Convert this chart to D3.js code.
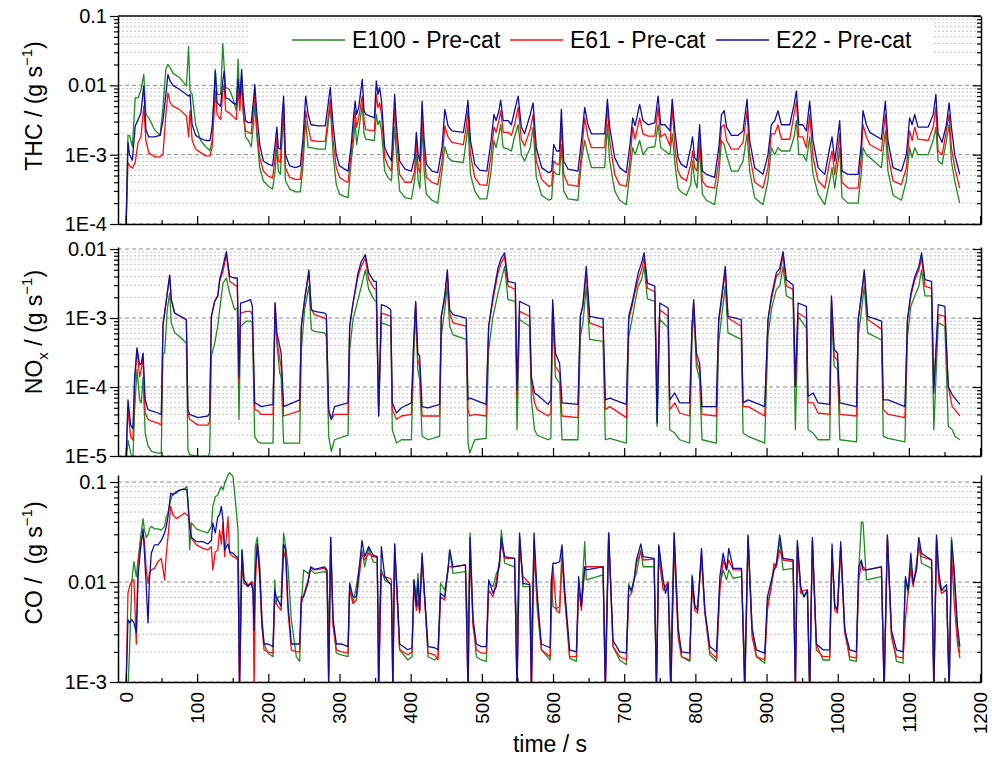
<!DOCTYPE html>
<html>
<head>
<meta charset="utf-8">
<script src="https://cdn.jsdelivr.net/npm/d3@7/dist/d3.min.js"></script>
<style>
  body { margin: 0; background: #fff; }
  svg { font-family: "Liberation Sans", Arial, sans-serif; }
</style>
</head>
<body>
<svg id="chart" width="992" height="764"></svg>
<script>
// ---- data (time in s, emissions in g/s) ----
const seriesNames = ["E100 - Pre-cat", "E61 - Pre-cat", "E22 - Pre-cat"];
const seriesColors = ["#1e8c1e", "#ff1010", "#1010a0"];

const thcTime = [0,2.8,5,9,13,17,21,25,28,32,40,48,52,56,59,62,66,75,85,88,90,93,98,105,112,118,121,124,125.5,128,133,136,138,140,145,150,155,157.5,160,162.5,165,168,172,176,179,181,184,188,193,200,206,209.5,212,214,217,219.5,221.5,224,230,238,245,248.5,252.5,256,260,270,280,284,287,291,295.5,300,307,312,316.5,320,322,324,327,332,334.5,337,349,351.7,354,356.5,359,363.5,368,373,377.5,380,384.5,392,401,405.5,408,410.5,413,416,419,422,430,438,444,448,452.5,458,474,478,480.5,484,490,497,507,513,517,520,524,526.5,530,537,541.5,546,551,555.5,560,568,572,576.5,584,594,598,601,605,609,611.7,615,621,635,640,644.5,649,654,672.6,676.4,679.6,686.6,693.6,703,707.6,712,715.3,721.7,726.4,733.5,743,747.6,751.4,757.3,764.3,767.5,771.3,775.6,780,787.4,793.5,796,799,802.3,806,809.8,815.5,827,833,836.7,840.5,843.8,850.6,860,867,872.6,876.3,883.3,895,902,906.8,911.5,916,921,932.6,938.7,942,945.3,951,956,960.6,965.3,972.4,981.8,988.8,992,995.8,999.5,1002.8,1006,1014.5,1028.6,1033,1035.5,1040.3,1045,1061.3,1066.9,1070.6,1077.7,1089.4,1096.5,1101,1104.5,1108.2,1112.8,1127.1,1134.1,1137.9,1141,1146.6,1152.7,1156.5,1159.7,1164.4,1171.4];
const thcE100 = [8e-5,1.9e-3,1.9e-3,1.3e-3,6.6e-3,6.6e-3,8.5e-3,1.44e-2,3.8e-3,3.4e-3,2.3e-3,1.9e-3,4.8e-3,1.7e-2,2.0e-2,1.8e-2,1.5e-2,1.3e-2,9.8e-3,3.6e-2,8.3e-3,7.4e-3,2.7e-3,1.6e-3,1.3e-3,1.15e-3,1.6e-3,8.3e-3,1.7e-2,7.4e-3,7.4e-3,4.0e-2,1.8e-2,9.3e-3,8.8e-3,6.6e-3,4.3e-3,2.4e-2,5.3e-3,1.3e-2,3.8e-3,1.8e-3,1.6e-3,1.3e-3,2.7e-3,5.3e-3,1.8e-3,6.5e-4,4.2e-4,3.5e-4,3.2e-4,5.8e-4,1.26e-3,5.8e-4,5.2e-4,1.9e-3,3.8e-3,4.2e-4,3.2e-4,2.9e-4,2.9e-4,6.5e-4,3.1e-3,1.26e-3,1.26e-3,1.2e-3,1.2e-3,2.7e-3,5.3e-3,1.0e-3,3.7e-4,2.7e-4,2.5e-4,2.4e-4,8.1e-4,1.67e-3,3.1e-3,1.4e-3,2.2e-3,5.3e-3,2.0e-3,1.67e-3,1.6e-3,3.8e-3,2.7e-3,3.1e-3,2.2e-3,5.8e-4,4.7e-4,4.2e-4,2.5e-3,1.0e-3,3.0e-4,2.4e-4,2.3e-4,4.2e-4,1.0e-3,4.2e-4,3.3e-4,2.7e-3,5.8e-4,2.7e-4,2.2e-4,2.0e-4,5.8e-4,1.3e-3,9.1e-4,8.1e-4,7.7e-4,1.6e-3,2.7e-3,5.2e-4,3.0e-4,2.3e-4,2.3e-4,5.8e-4,1.6e-3,1.26e-3,2.0e-3,2.7e-3,1.26e-3,1.2e-3,1.13e-3,1.8e-3,2.7e-3,1.0e-3,8.1e-4,1.26e-3,2.5e-3,4.7e-4,2.6e-4,2.2e-4,2.3e-4,5.8e-4,5.2e-4,5.2e-4,1.4e-3,3.0e-4,2.3e-4,2.2e-4,8.1e-4,1.6e-3,1.0e-3,6.5e-4,6.5e-4,2.7e-3,8.1e-4,3.0e-4,2.2e-4,1.9e-4,5.2e-4,1.26e-3,1.0e-3,1.6e-3,1.0e-3,1.26e-3,1.3e-3,2.7e-3,1.26e-3,1.13e-3,1.0e-3,2.0e-3,7.3e-4,3.3e-4,2.9e-4,2.6e-4,3.7e-4,8.1e-4,4.2e-4,3.3e-4,1.26e-3,2.7e-4,2.2e-4,1.9e-4,5.2e-4,1.6e-3,1.4e-3,1.0e-3,5.8e-4,5.8e-4,8.1e-4,2.0e-3,5.8e-4,2.4e-4,1.9e-4,4.2e-4,1.26e-3,1.0e-3,1.26e-3,1.13e-3,1.13e-3,1.8e-3,3.1e-3,1.0e-3,1.0e-3,8.1e-4,1.8e-3,5.2e-4,2.7e-4,1.9e-4,4.2e-4,6.5e-4,3.3e-4,6.5e-4,1.26e-3,2.4e-4,2.0e-4,2.0e-4,5.2e-4,1.26e-3,1.0e-3,9.1e-4,6.5e-4,2.2e-3,5.8e-4,2.6e-4,2.2e-4,4.2e-4,1.26e-3,9.1e-4,1.26e-3,1.0e-3,1.0e-3,1.6e-3,2.5e-3,8.1e-4,7.3e-4,1.6e-3,2.7e-3,8.1e-4,4.2e-4,2.0e-4];
const thcE61 = [8e-5,7.7e-4,6.9e-4,6.4e-4,7.7e-4,1.5e-3,1.8e-3,5.0e-3,1.6e-3,1.07e-3,9.3e-4,9.3e-4,1.0e-3,3.8e-3,7.8e-3,5.6e-3,5.0e-3,4.5e-3,3.6e-3,1.8e-3,4.3e-3,1.6e-3,1.2e-3,1.07e-3,9.6e-4,9.6e-4,1.26e-3,4.3e-3,8.3e-3,3.8e-3,3.2e-3,8.3e-3,1.03e-2,4.3e-3,4.0e-3,3.6e-3,3.2e-3,8.3e-3,4.3e-3,1.16e-2,3.8e-3,2.2e-3,2.1e-3,2.0e-3,4.3e-3,7.8e-3,2.2e-3,9.1e-4,5.8e-4,4.9e-4,4.6e-4,9.1e-4,1.8e-3,8.1e-4,7.7e-4,2.7e-3,5.3e-3,6.5e-4,4.7e-4,4.4e-4,4.4e-4,1.0e-3,4.3e-3,2.5e-3,1.6e-3,1.55e-3,1.55e-3,3.4e-3,6.3e-3,1.6e-3,6.5e-4,4.7e-4,4.2e-4,4.0e-4,1.0e-3,2.7e-3,4.3e-3,2.5e-3,3.4e-3,7.0e-3,3.1e-3,2.3e-3,2.2e-3,7.4e-3,4.8e-3,5.6e-3,3.8e-3,9.1e-4,6.9e-4,5.8e-4,4.5e-3,1.8e-3,5.2e-4,4.0e-4,4.0e-4,5.8e-4,1.6e-3,6.5e-4,5.5e-4,3.8e-3,1.0e-3,4.7e-4,4.0e-4,3.7e-4,8.1e-4,2.6e-3,1.8e-3,1.5e-3,1.4e-3,2.5e-3,4.3e-3,1.0e-3,4.7e-4,3.7e-4,3.6e-4,1.0e-3,2.5e-3,2.1e-3,3.1e-3,4.3e-3,2.1e-3,2.1e-3,1.9e-3,2.7e-3,4.8e-3,1.67e-3,1.34e-3,2.3e-3,3.8e-3,8.1e-4,4.4e-4,3.5e-4,3.6e-4,8.1e-4,7.3e-4,7.3e-4,2.7e-3,5.2e-4,3.7e-4,3.5e-4,1.0e-3,3.4e-3,1.8e-3,1.26e-3,1.26e-3,4.8e-3,1.6e-3,5.2e-4,3.7e-4,3.5e-4,7.3e-4,2.5e-3,1.67e-3,3.4e-3,2.0e-3,1.85e-3,1.85e-3,4.8e-3,1.8e-3,2.0e-3,1.34e-3,4.8e-3,1.26e-3,5.8e-4,4.7e-4,4.2e-4,7.3e-4,1.13e-3,6.5e-4,5.8e-4,1.8e-3,4.2e-4,3.5e-4,3.3e-4,8.1e-4,2.5e-3,2.7e-3,1.6e-3,1.2e-3,1.2e-3,1.5e-3,4.3e-3,1.0e-3,4.0e-4,3.3e-4,6.5e-4,2.0e-3,2.0e-3,2.7e-3,1.67e-3,1.67e-3,3.8e-3,5.9e-3,1.8e-3,1.8e-3,1.26e-3,3.8e-3,9.1e-4,4.2e-4,3.3e-4,8.1e-4,1.13e-3,5.2e-4,1.0e-3,2.0e-3,4.0e-4,3.3e-4,3.3e-4,9.1e-4,2.7e-3,1.8e-3,1.4e-3,1.13e-3,3.8e-3,1.0e-3,4.2e-4,3.7e-4,6.5e-4,2.2e-3,1.6e-3,2.5e-3,1.67e-3,1.6e-3,2.5e-3,4.8e-3,1.13e-3,1.0e-3,2.2e-3,3.8e-3,1.26e-3,6.5e-4,3.3e-4];
const thcE22 = [8e-5,1.5e-3,1.0e-3,8.3e-4,2.6e-3,3.2e-3,4.0e-3,9.8e-3,2.3e-3,1.8e-3,1.8e-3,1.9e-3,3.1e-3,7.4e-3,1.44e-2,1.16e-2,1.0e-2,8.8e-3,7.4e-3,7.0e-3,7.4e-3,2.7e-3,1.9e-3,1.7e-3,1.6e-3,1.6e-3,2.5e-3,7.4e-3,1.6e-2,5.6e-3,5.0e-3,1.16e-2,1.6e-2,6.6e-3,6.3e-3,5.6e-3,5.3e-3,1.22e-2,6.6e-3,1.7e-2,5.9e-3,3.1e-3,2.9e-3,2.9e-3,5.9e-3,1.03e-2,3.8e-3,1.4e-3,8.1e-4,7.3e-4,6.9e-4,1.4e-3,2.5e-3,1.26e-3,1.2e-3,3.8e-3,7.0e-3,1.0e-3,6.9e-4,6.5e-4,6.9e-4,1.6e-3,7.0e-3,3.8e-3,2.7e-3,2.6e-3,2.6e-3,5.3e-3,9.3e-3,2.7e-3,1.0e-3,6.9e-4,6.2e-4,5.8e-4,1.4e-3,3.8e-3,5.9e-3,3.8e-3,4.8e-3,1.22e-2,4.3e-3,3.8e-3,3.4e-3,1.16e-2,7.4e-3,9.3e-3,5.9e-3,1.26e-3,1.0e-3,8.1e-4,7.4e-3,2.7e-3,8.1e-4,6.2e-4,5.8e-4,9.1e-4,2.1e-3,1.0e-3,8.1e-4,5.9e-3,1.6e-3,7.3e-4,5.8e-4,5.5e-4,1.26e-3,4.5e-3,2.6e-3,2.2e-3,2.1e-3,3.8e-3,6.1e-3,1.6e-3,7.3e-4,6.0e-4,5.8e-4,1.6e-3,3.8e-3,3.1e-3,4.3e-3,6.1e-3,3.1e-3,3.1e-3,2.7e-3,4.3e-3,7.0e-3,2.5e-3,2.0e-3,3.8e-3,5.6e-3,1.26e-3,6.5e-4,5.5e-4,5.8e-4,1.4e-3,1.13e-3,1.13e-3,4.5e-3,8.1e-4,6.2e-4,5.8e-4,1.6e-3,4.8e-3,2.7e-3,2.0e-3,2.0e-3,6.3e-3,2.5e-3,9.1e-4,6.5e-4,5.5e-4,1.26e-3,3.4e-3,2.6e-3,5.3e-3,3.1e-3,2.7e-3,2.9e-3,7.0e-3,2.7e-3,2.7e-3,2.2e-3,6.3e-3,2.2e-3,9.1e-4,7.3e-4,6.5e-4,1.26e-3,1.8e-3,9.1e-4,8.1e-4,2.7e-3,5.8e-4,5.2e-4,4.7e-4,1.26e-3,3.8e-3,4.3e-3,2.5e-3,1.9e-3,1.9e-3,2.2e-3,6.3e-3,1.6e-3,6.5e-4,5.2e-4,1.0e-3,2.7e-3,3.1e-3,4.3e-3,2.7e-3,2.7e-3,5.3e-3,8.3e-3,2.7e-3,2.7e-3,2.2e-3,5.9e-3,1.6e-3,6.5e-4,5.2e-4,1.26e-3,1.8e-3,8.1e-4,1.6e-3,3.1e-3,5.8e-4,5.2e-4,5.2e-4,1.4e-3,4.3e-3,2.7e-3,2.1e-3,1.67e-3,5.9e-3,1.6e-3,6.5e-4,5.8e-4,1.0e-3,3.4e-3,2.7e-3,3.8e-3,2.5e-3,2.5e-3,3.8e-3,7.4e-3,2.0e-3,1.5e-3,2.7e-3,5.6e-3,2.5e-3,1.0e-3,5.2e-4];

const noxTime = [0,2.8,6.6,9.8,12.2,15.5,19.2,21.5,24,27,31,36,45,49.6,52,54.3,58,61.4,63.7,68.4,75.4,84.8,87,89.5,101,115,117.6,120,124.6,129,131.6,136.3,141,145.7,152.7,156.4,158.8,161,169,175,177.5,180.8,185.5,190,206.6,209.5,212,216,218,221.5,244,246.4,251,257,260.4,265,279,281.5,284.8,288.5,293,312,314.3,319,326,330.7,336.3,341,348.5,351.7,355,358.8,365.8,372,374.2,380,387,401,404.2,407,410,412.6,416,424.4,440.7,443,447.8,451.5,454.8,459.5,478,480.6,483,490,506,509.6,515.7,522.7,527.4,532,536.8,547,549.4,553,567,569.6,574,578,593,597,599.5,603.3,609.3,612.6,635,638.4,642,646.7,651.5,670.3,673.5,679.7,703,706.4,711,715,719.7,724.4,728,732.6,743,746.2,750,761.7,764,771,778,792,795.3,797.6,801.4,806,809.3,829.4,832.7,836.4,842,845.8,864.5,867,874,897.4,902,906.8,913.8,918.5,923.2,927.9,937.3,940.5,944.3,956,958.3,965.4,972.4,988.8,991.2,995,999.7,1003,1026.5,1028.8,1033.5,1037.3,1042,1061.6,1064,1071,1094.4,1098,1102.8,1108.4,1114,1117.8,1122.5,1131.8,1135,1141.2,1150.5,1155.3,1160.9,1164.6,1171.6];
const noxE100 = [8e-6,1.7e-5,1.1e-5,8.9e-6,4.7e-5,1.8e-4,6.5e-5,5.9e-5,1.4e-4,2.15e-5,1.4e-5,1.17e-5,1.1e-5,1.1e-5,3.1e-4,3.1e-4,1.32e-3,2.3e-3,8.5e-4,6.1e-4,5.4e-4,4.3e-4,1.24e-5,1.05e-5,9.9e-6,9.9e-6,1.1e-5,2.8e-4,4.3e-4,7.6e-4,1.32e-3,3.2e-3,3.8e-3,2.3e-3,1.32e-3,1.4e-3,3.4e-5,7.6e-4,9.0e-4,9.0e-4,8.5e-4,1.93e-5,1.6e-5,1.54e-5,1.54e-5,1.32e-3,4.3e-4,1.6e-4,1.4e-4,1.54e-5,1.54e-5,3.5e-4,1.32e-3,2.9e-3,6.8e-4,6.4e-4,6.1e-4,5.4e-4,1.93e-5,1.17e-5,1.72e-5,2.0e-5,3.5e-4,9.5e-4,1.85e-3,2.9e-3,5.0e-3,2.6e-3,1.85e-3,1.74e-3,3.8e-5,8.5e-4,8.0e-4,7.6e-4,2.4e-5,1.54e-5,1.72e-5,1.72e-5,2.5e-4,1.32e-3,1.8e-4,1.28e-4,1.93e-5,1.72e-5,1.93e-5,5.4e-4,1.32e-3,2.9e-3,7.6e-4,5.7e-4,4.9e-4,1.54e-5,1.1e-5,1.72e-5,1.8e-5,3.5e-4,1.06e-3,2.3e-3,3.6e-3,5.6e-3,1.85e-3,1.74e-3,2.4e-5,9.5e-4,7.6e-4,6.5e-5,2.4e-5,2.0e-5,1.72e-5,1.8e-5,1.32e-3,1.4e-4,1.14e-4,1.72e-5,1.72e-5,5.4e-4,8.5e-4,2.9e-3,4.9e-4,4.6e-4,1.72e-5,1.8e-5,1.54e-5,5.4e-4,9.5e-4,1.65e-3,2.9e-3,3.6e-3,5.6e-3,1.9e-3,1.74e-3,2.7e-5,9.5e-4,7.2e-4,2.4e-5,2.15e-5,1.72e-5,1.54e-5,4.9e-4,1.32e-3,2.0e-4,1.28e-4,1.72e-5,1.54e-5,4.3e-4,9.5e-4,2.9e-3,6.1e-4,4.9e-4,2.15e-5,1.93e-5,1.54e-5,5.4e-4,1.32e-3,2.6e-3,2.9e-3,5.6e-3,2.1e-3,1.85e-3,2.4e-5,1.06e-3,7.2e-4,2.4e-5,2.15e-5,1.72e-5,1.72e-5,1.32e-3,2.0e-4,1.8e-4,1.72e-5,1.6e-5,5.4e-4,1.32e-3,2.9e-3,6.1e-4,4.8e-4,1.93e-5,1.8e-5,1.6e-5,5.4e-4,1.48e-3,2.1e-3,2.9e-3,5.0e-3,2.1e-3,2.1e-3,2.4e-5,8.5e-4,7.6e-4,2.7e-5,2.4e-5,1.93e-5,1.72e-5];
const noxE61 = [8e-6,4.7e-5,1.9e-5,1.7e-5,1.1e-4,3.5e-4,1.4e-4,1.8e-4,2.6e-4,4.2e-5,3.4e-5,3.2e-5,3.0e-5,2.8e-5,8.5e-4,1.18e-3,2.3e-3,4.0e-3,1.85e-3,1.18e-3,1.06e-3,9.5e-4,4.2e-5,3.4e-5,2.8e-5,2.8e-5,3.2e-5,1.06e-3,1.74e-3,2.1e-3,3.4e-3,4.7e-3,8.3e-3,3.4e-3,3.0e-3,2.9e-3,1.14e-4,1.18e-3,1.25e-3,1.25e-3,1.12e-3,4.7e-5,4.5e-5,4.0e-5,4.0e-5,1.65e-3,4.9e-4,2.5e-4,2.0e-4,3.8e-5,4.5e-5,7.6e-4,1.85e-3,4.5e-3,1.32e-3,1.12e-3,1.0e-3,9.5e-4,4.2e-5,3.4e-5,4.0e-5,4.0e-5,7.6e-4,1.65e-3,4.0e-3,5.6e-3,7.4e-3,3.6e-3,2.7e-3,2.6e-3,4.7e-5,1.18e-3,1.12e-3,1.06e-3,4.7e-5,3.4e-5,3.8e-5,4.0e-5,4.3e-4,1.65e-3,2.5e-4,2.0e-4,3.8e-5,3.8e-5,3.8e-5,1.06e-3,1.85e-3,4.5e-3,1.18e-3,8.5e-4,7.6e-4,4.7e-5,3.8e-5,4.0e-5,3.8e-5,7.6e-4,1.85e-3,4.5e-3,6.3e-3,7.8e-3,2.9e-3,2.6e-3,7.3e-5,1.25e-3,1.06e-3,1.14e-4,5.9e-5,4.7e-5,3.8e-5,4.2e-5,1.65e-3,2.0e-4,1.6e-4,3.8e-5,3.6e-5,1.06e-3,1.48e-3,4.5e-3,8.5e-4,7.2e-4,4.7e-5,5.2e-5,3.6e-5,9.5e-4,1.48e-3,2.3e-3,3.6e-3,5.0e-3,7.4e-3,2.7e-3,2.4e-3,8.2e-5,1.32e-3,1.06e-3,4.7e-5,5.9e-5,4.2e-5,3.8e-5,7.6e-4,1.65e-3,2.5e-4,1.7e-4,4.0e-5,3.8e-5,8.5e-4,1.65e-3,4.7e-3,1.0e-3,7.6e-4,5.2e-5,5.2e-5,3.8e-5,9.5e-4,1.85e-3,4.0e-3,4.5e-3,7.8e-3,2.9e-3,2.6e-3,1.02e-4,1.18e-3,1.0e-3,5.9e-5,5.9e-5,4.2e-5,4.0e-5,1.85e-3,2.8e-4,2.4e-4,4.0e-5,3.8e-5,9.5e-4,2.1e-3,4.5e-3,9.5e-4,6.9e-4,4.7e-5,4.0e-5,3.6e-5,9.5e-4,2.1e-3,3.6e-3,5.0e-3,7.4e-3,2.9e-3,2.7e-3,1.02e-4,1.12e-3,1.06e-3,1.02e-4,5.2e-5,4.7e-5,3.8e-5];
const noxE22 = [8e-6,6.5e-5,2.8e-5,2.5e-5,1.4e-4,3.7e-4,2.1e-4,2.2e-4,3.1e-4,6.5e-5,4.7e-5,4.5e-5,4.2e-5,4.0e-5,7.6e-4,1.18e-3,2.3e-3,4.2e-3,1.85e-3,1.18e-3,1.08e-3,9.5e-4,4.7e-5,4.0e-5,3.6e-5,3.8e-5,4.2e-5,1.06e-3,1.74e-3,2.1e-3,3.6e-3,5.6e-3,9.2e-3,4.0e-3,3.8e-3,3.8e-3,1.4e-4,1.65e-3,1.74e-3,1.85e-3,1.48e-3,5.9e-5,5.6e-5,5.2e-5,5.6e-5,1.65e-3,6.1e-4,3.9e-4,3.1e-4,5.2e-5,6.5e-5,7.6e-4,1.85e-3,5.0e-3,1.32e-3,1.25e-3,1.18e-3,1.12e-3,4.7e-5,3.4e-5,5.2e-5,5.9e-5,7.6e-4,1.65e-3,4.5e-3,6.6e-3,8.3e-3,4.5e-3,3.4e-3,3.4e-3,3.8e-5,1.56e-3,1.48e-3,1.32e-3,5.9e-5,4.2e-5,5.0e-5,5.9e-5,4.3e-4,1.74e-3,3.1e-4,2.8e-4,5.2e-5,5.0e-5,5.6e-5,1.06e-3,2.1e-3,5.0e-3,1.32e-3,1.12e-3,1.0e-3,6.5e-5,6.9e-5,6.5e-5,5.6e-5,7.6e-4,2.1e-3,5.3e-3,7.4e-3,8.8e-3,3.4e-3,3.2e-3,9.1e-5,1.74e-3,1.48e-3,1.4e-4,8.2e-5,7.7e-5,5.6e-5,6.5e-5,1.85e-3,3.1e-4,2.2e-4,5.9e-5,5.6e-5,1.06e-3,1.56e-3,5.6e-3,1.06e-3,9.7e-4,6.5e-5,6.9e-5,5.6e-5,1.06e-3,1.65e-3,2.6e-3,4.5e-3,6.3e-3,8.8e-3,3.2e-3,2.9e-3,3.0e-5,1.65e-3,1.4e-3,6.5e-5,8.2e-5,5.9e-5,5.9e-5,7.6e-4,1.85e-3,3.1e-4,2.2e-4,5.2e-5,5.2e-5,9.5e-4,1.85e-3,5.6e-3,1.06e-3,9.5e-4,5.9e-5,6.5e-5,5.2e-5,9.5e-4,2.1e-3,4.5e-3,5.3e-3,9.2e-3,3.6e-3,3.0e-3,1.02e-4,1.65e-3,1.48e-3,7.3e-5,8.2e-5,5.9e-5,5.6e-5,2.1e-3,3.5e-4,3.1e-4,5.9e-5,5.2e-5,9.5e-4,2.3e-3,5.0e-3,1.06e-3,9.0e-4,6.5e-5,6.5e-5,5.2e-5,9.5e-4,2.3e-3,4.0e-3,5.6e-3,8.8e-3,3.6e-3,3.4e-3,8.2e-5,1.56e-3,1.48e-3,1.02e-4,7.7e-5,6.9e-5,5.6e-5];

const coTime = [0,2.8,5,8.4,11.2,14.5,17,20,24,26,28.5,31,33,35.6,40,45,49.6,54.3,56.7,59,62.8,66,70.7,75.4,82.4,85.7,88,89.5,92,99,108,115,120,122,125.5,129,131.6,134,136.3,138.7,143.3,145.7,150.4,155,157.4,159.5,163,165.8,171.4,176,178.5,180,181.7,184.5,187.8,191,194,199.5,206.6,209,211,213.6,218,221.5,224.4,227.6,232.3,239.3,244,246.4,249.6,255.7,259.5,265,279,282.4,284.8,287.6,291,295.6,302.6,312,314.3,319,323.6,331.6,335.4,341,347,353,355,358.8,363.5,370.5,372.8,375,377.5,381.3,384.5,396,401.9,404.6,408,410.3,412.6,416,419.7,424.4,433.7,438.4,442,447.8,452.5,454.8,459.5,477,480.6,483.4,487.6,492.3,499.3,506.3,509.6,515.7,520.4,525,527.4,532,546,549.4,553,557.8,567.2,569.6,573.3,578,583.6,596,597.7,600,604.6,609.3,612.6,616.4,623.4,632.8,636,639.8,644.5,646.8,670.3,673.5,678.2,684.3,693.7,703,706.4,710.2,713.9,717.2,723.3,726.6,742,745.3,748.6,754.7,758,761.7,765.5,770.2,775.8,780.5,792.2,795.5,799.2,803,808.6,813.3,820.3,829.7,834.4,839,843.8,847,853,864.8,869.4,874,879.7,885.8,897.4,901.2,905.8,910.5,913.8,918.5,923.2,937.3,940.5,943.3,948,952.7,957.4,960.6,964.4,970,979.4,988.8,992,995.8,999.5,1004.2,1009.8,1016.9,1026.2,1029.5,1033.3,1035.6,1040.3,1061.4,1065.2,1069.8,1075.5,1082.5,1091.8,1095.1,1098.9,1102.7,1106,1110.6,1113.9,1117.7,1131.8,1135.1,1138.8,1142.1,1145.8,1152.9,1156.6,1159.9,1163.7,1168.3,1171.6];
const coE100 = [8e-4,8e-4,2.1e-3,1.05e-2,1.6e-2,1.13e-2,1.66e-2,2.6e-2,4.3e-2,3.3e-2,2.8e-2,2.95e-2,3.4e-2,3.6e-2,3.4e-2,3.4e-2,3.3e-2,3.6e-2,4.5e-2,4.9e-2,6.6e-2,7.7e-2,7.7e-2,8.3e-2,8.6e-2,9.0e-2,5.2e-2,2.1e-2,3.9e-2,3.4e-2,3.2e-2,3.1e-2,3.6e-2,5.7e-2,7.1e-2,7.4e-2,8.3e-2,9.0e-2,8.3e-2,9.7e-2,0.117,0.124,0.113,5.2e-2,3.3e-2,2.8e-3,2.09e-2,1.05e-2,9.4e-3,9.7e-3,8.3e-3,3.9e-3,2.26e-2,2.8e-2,1.54e-2,4.5e-3,2.4e-3,1.94e-3,1.79e-3,1.05e-2,6.1e-3,7.1e-3,7.1e-3,3.1e-2,2.26e-2,1.42e-2,4.2e-3,1.79e-3,1.61e-3,6.1e-3,1.32e-2,1.22e-2,1.32e-2,1.22e-2,1.27e-2,1.22e-2,2.8e-3,2.8e-2,3.9e-3,1.94e-3,1.87e-3,1.79e-3,9.7e-3,6.1e-3,9.0e-3,2.09e-2,1.42e-2,2.17e-2,1.6e-2,1.54e-2,2.8e-3,1.32e-2,1.05e-2,9.7e-3,9.4e-3,1.79e-3,2.4e-2,6.6e-3,2.1e-3,1.66e-3,1.79e-3,1.05e-2,7.1e-3,1.22e-2,5.2e-3,1.79e-2,7.1e-3,1.79e-3,1.66e-3,1.79e-3,9.7e-3,8.3e-3,1.32e-2,2.09e-2,1.22e-2,1.27e-2,2.8e-3,3.1e-2,4.2e-3,1.79e-3,1.66e-3,1.61e-3,9.7e-3,9.0e-3,1.22e-2,1.42e-2,3.3e-2,1.54e-2,1.42e-2,2.8e-3,2.8e-2,9.0e-3,9.0e-3,2.4e-3,2.6e-2,5.2e-3,2.1e-3,1.66e-3,1.05e-2,5.7e-3,5.4e-3,5.7e-3,2.09e-2,7.1e-3,1.73e-3,1.61e-3,8.3e-3,6.1e-3,2.53e-2,1.05e-2,1.18e-2,1.32e-3,3.1e-2,2.26e-3,1.66e-3,1.49e-3,9.7e-3,7.7e-3,1.05e-2,1.22e-2,2.09e-2,1.42e-2,1.42e-2,1.13e-3,2.26e-2,9.7e-3,9.0e-3,9.4e-3,1.79e-3,3.1e-2,3.6e-3,1.79e-3,1.61e-3,1.18e-2,5.7e-3,5.7e-3,1.66e-2,5.2e-3,1.87e-3,1.61e-3,9.0e-3,1.32e-2,1.05e-2,1.32e-2,1.09e-2,1.13e-2,1.32e-3,2.8e-2,3.6e-3,1.79e-3,1.54e-3,6.1e-3,8.3e-3,1.32e-2,1.42e-2,2.6e-2,1.32e-2,1.37e-2,1.32e-3,2.4e-2,8.3e-3,7.1e-3,8.3e-3,8e-4,2.6e-2,2.4e-3,1.66e-3,1.66e-3,1.94e-2,6.1e-3,5.2e-3,2.26e-2,3.6e-3,1.66e-3,1.61e-3,1.32e-2,4.0e-2,3.9e-2,1.05e-2,1.13e-2,1.13e-3,2.8e-2,3.1e-3,1.61e-3,1.54e-3,1.05e-2,7.7e-3,1.54e-2,9.7e-3,1.32e-2,2.4e-2,1.54e-2,1.37e-2,1.13e-3,2.8e-2,1.13e-2,8.3e-3,8.3e-3,8e-4,2.8e-2,1.05e-2,2.8e-3,1.94e-3];
const coE61 = [8e-4,7.7e-3,9.0e-3,1.05e-2,1.05e-2,2.4e-3,1.54e-2,2.4e-2,3.1e-2,2.5e-2,1.32e-2,9.7e-3,1.22e-2,1.32e-2,1.37e-2,1.6e-2,1.72e-2,1.05e-2,1.94e-2,2.8e-2,5.7e-2,4.7e-2,4.3e-2,4.5e-2,4.9e-2,4.7e-2,4.5e-2,3.9e-2,2.73e-2,2.35e-2,2.17e-2,2.09e-2,2.26e-2,1.32e-2,2.0e-2,2.09e-2,3.3e-2,2.4e-2,3.9e-2,1.79e-2,4.5e-2,1.94e-2,1.79e-2,1.72e-2,1.66e-2,8e-4,1.54e-2,9.7e-3,9.0e-3,1.01e-2,9.7e-3,8e-4,9.0e-3,2.4e-2,1.13e-2,3.6e-3,2.1e-3,2.0e-3,1.94e-3,6.6e-3,6.1e-3,5.7e-3,5.2e-3,2.09e-2,1.66e-2,5.2e-3,2.1e-3,2.0e-3,2.0e-3,6.1e-3,7.4e-3,1.05e-2,1.37e-2,1.32e-2,1.37e-2,1.27e-2,1.13e-3,2.26e-2,3.6e-3,2.1e-3,2.0e-3,1.94e-3,8.3e-3,6.1e-3,6.6e-3,1.94e-2,1.66e-2,1.94e-2,1.79e-2,1.76e-2,8e-4,1.22e-2,1.13e-2,1.09e-2,1.05e-2,8e-4,2.09e-2,6.1e-3,2.1e-3,1.87e-3,2.0e-3,9.0e-3,5.2e-3,6.6e-3,4.9e-3,1.66e-2,6.6e-3,1.94e-3,1.87e-3,1.66e-3,7.1e-3,6.6e-3,1.42e-2,1.42e-2,1.42e-2,1.48e-2,8e-4,2.09e-2,3.6e-3,2.1e-3,1.94e-3,1.94e-3,8.3e-3,7.1e-3,1.05e-2,1.66e-2,2.4e-2,1.72e-2,1.72e-2,8e-4,2.26e-2,1.13e-2,9.7e-3,8e-4,1.94e-2,6.1e-3,2.1e-3,1.79e-3,5.2e-3,1.42e-2,5.2e-3,4.9e-3,1.66e-2,7.1e-3,1.79e-3,1.79e-3,9.0e-3,5.2e-3,1.37e-2,1.42e-2,1.42e-2,8e-4,2.95e-2,2.26e-3,1.79e-3,1.66e-3,7.1e-3,7.7e-3,1.05e-2,1.54e-2,2.0e-2,1.66e-2,1.69e-2,8e-4,1.79e-2,8.3e-3,9.0e-3,1.01e-2,8e-4,2.26e-2,2.8e-3,1.79e-3,1.66e-3,9.0e-3,5.2e-3,4.9e-3,1.94e-2,4.9e-3,2.0e-3,1.73e-3,8.3e-3,1.66e-2,1.32e-2,1.66e-2,1.32e-2,1.32e-2,8e-4,2.8e-2,2.8e-3,1.79e-3,1.66e-3,5.2e-3,8.3e-3,1.54e-2,1.42e-2,2.09e-2,1.66e-2,1.6e-2,8e-4,2.26e-2,7.7e-3,8.3e-3,8.3e-3,8e-4,2.6e-2,2.1e-3,1.79e-3,1.79e-3,2.09e-2,5.2e-3,4.9e-3,2.09e-2,3.1e-3,1.79e-3,1.73e-3,1.05e-2,1.54e-2,1.42e-2,1.32e-2,1.42e-2,8e-4,2.8e-2,2.8e-3,1.79e-3,1.73e-3,4.2e-3,7.7e-3,1.32e-2,9.0e-3,1.54e-2,2.26e-2,1.79e-2,1.66e-2,8e-4,2.6e-2,9.7e-3,7.7e-3,8.3e-3,8.5e-4,1.94e-2,6.1e-3,2.4e-3,1.73e-3];
const coE22 = [8e-4,4.2e-3,3.9e-3,4.2e-3,3.9e-3,3.1e-3,1.13e-2,2.0e-2,3.4e-2,1.94e-2,9.0e-3,3.9e-3,1.05e-2,1.94e-2,2.35e-2,2.35e-2,2.6e-2,3.1e-2,3.6e-2,4.5e-2,7.7e-2,7.4e-2,8.0e-2,8.3e-2,8.5e-2,8.3e-2,4.9e-2,3.6e-2,2.8e-2,2.53e-2,2.53e-2,2.4e-2,2.6e-2,3.9e-2,3.1e-2,4.5e-2,4.7e-2,5.7e-2,4.2e-2,2.09e-2,2.4e-2,2.0e-2,1.94e-2,1.79e-2,1.76e-2,8e-4,2.09e-2,1.05e-2,9.0e-3,9.7e-3,8.3e-3,3.3e-3,1.32e-2,2.4e-2,1.32e-2,3.9e-3,2.4e-3,2.4e-3,2.26e-3,8.3e-3,7.1e-3,6.6e-3,5.7e-3,2.4e-2,2.09e-2,6.1e-3,2.4e-3,2.4e-3,2.4e-3,7.1e-3,7.1e-3,9.7e-3,1.42e-2,1.34e-2,1.42e-2,1.32e-2,8e-4,2.8e-2,4.2e-3,2.4e-3,2.4e-3,2.26e-3,9.7e-3,7.1e-3,7.1e-3,2.6e-2,1.79e-2,2.26e-2,1.86e-2,1.79e-2,8e-4,2.26e-2,1.13e-2,9.7e-3,9.4e-3,8e-4,2.4e-2,7.1e-3,2.4e-3,2.1e-3,2.2e-3,1.05e-2,5.7e-3,1.05e-2,5.2e-3,1.94e-2,7.1e-3,2.26e-3,2.2e-3,2.1e-3,7.7e-3,7.1e-3,1.32e-2,2.09e-2,1.42e-2,1.48e-2,8e-4,2.8e-2,4.2e-3,2.4e-3,2.26e-3,2.26e-3,1.05e-2,7.7e-3,9.0e-3,1.66e-2,2.8e-2,1.79e-2,1.72e-2,8e-4,3.1e-2,9.7e-3,9.4e-3,8e-4,3.1e-2,7.1e-3,2.4e-3,2.2e-3,1.05e-2,1.54e-2,1.54e-2,1.6e-2,2.35e-2,8.3e-3,2.1e-3,2.0e-3,1.13e-2,5.7e-3,1.42e-2,1.32e-2,1.42e-2,8e-4,3.1e-2,2.6e-3,2.0e-3,1.94e-3,9.0e-3,8.3e-3,1.05e-2,1.66e-2,2.4e-2,1.79e-2,1.72e-2,8e-4,2.35e-2,1.05e-2,7.7e-3,9.7e-3,8e-4,3.1e-2,3.3e-3,2.0e-3,1.94e-3,1.13e-2,5.7e-3,5.2e-3,2.17e-2,5.2e-3,2.26e-3,2.0e-3,1.13e-2,1.94e-2,1.32e-2,2.17e-2,1.37e-2,1.37e-2,8e-4,2.95e-2,3.3e-3,2.1e-3,1.94e-3,7.1e-3,9.7e-3,1.32e-2,1.54e-2,2.95e-2,1.72e-2,1.66e-2,8e-4,2.6e-2,9.0e-3,7.1e-3,8.3e-3,8e-4,2.8e-2,2.4e-3,2.1e-3,2.1e-3,2.4e-2,5.7e-3,5.2e-3,2.53e-2,3.3e-3,2.1e-3,2.0e-3,1.42e-2,1.66e-2,1.32e-2,1.32e-2,1.42e-2,8e-4,2.95e-2,3.3e-3,2.1e-3,2.0e-3,1.13e-2,8.3e-3,1.94e-2,9.7e-3,1.32e-2,2.8e-2,1.94e-2,1.66e-2,8e-4,2.95e-2,1.22e-2,8.3e-3,9.4e-3,8e-4,2.6e-2,1.32e-2,3.6e-3,2.26e-3];

// axis tick values / labels
const thcTicks = [1e-4, 1e-3, 1e-2, 1e-1];
const thcTickLabels = ["1E-4", "1E-3", "0.01", "0.1"];
const noxTicks = [1e-5, 1e-4, 1e-3, 1e-2];
const noxTickLabels = ["1E-5", "1E-4", "1E-3", "0.01"];
const coTicks = [1e-3, 1e-2, 1e-1];
const coTickLabels = ["1E-3", "0.01", "0.1"];
const timeTicks = [0,100,200,300,400,500,600,700,800,900,1000,1100,1200];

// ---- layout ----
const svg = d3.select("#chart");
const left = 118, right = 981;
const font = '"Liberation Sans", Arial, sans-serif';

const x = d3.scaleLinear().domain([-11.2, 1201.3]).range([left, right]);

const panels = [
  { key: "thc", time: thcTime, series: [thcE100, thcE61, thcE22], domain: [1e-4, 0.1],
    top: 16, bottom: 224, ticks: thcTicks, labels: thcTickLabels, box: true,
    title: "thc", titleY: 106 },
  { key: "nox", time: noxTime, series: [noxE100, noxE61, noxE22], domain: [1e-5, 0.0107],
    top: 247, bottom: 456, ticks: noxTicks, labels: noxTickLabels, box: false,
    title: "nox", titleY: 332 },
  { key: "co", time: coTime, series: [coE100, coE61, coE22], domain: [1e-3, 0.1175],
    top: 475, bottom: 682, ticks: coTicks, labels: coTickLabels, box: false,
    title: "co", titleY: 563 }
];

function minorTicks(domain) {
  const out = [];
  const k0 = Math.floor(Math.log10(domain[0])), k1 = Math.ceil(Math.log10(domain[1]));
  for (let k = k0; k <= k1; k++) {
    for (let m = 2; m <= 9; m++) {
      const v = m * Math.pow(10, k);
      if (v > domain[0] * 1.0001 && v < domain[1] * 0.9999) out.push(v);
    }
  }
  return out;
}

const defs = svg.append("defs");

panels.forEach((p, i) => {
  const y = d3.scaleLog().domain(p.domain).range([p.bottom, p.top]);
  const minors = minorTicks(p.domain);
  const g = svg.append("g");

  // grid
  g.append("g").selectAll("line").data(minors).enter().append("line")
    .attr("x1", left).attr("x2", right)
    .attr("y1", d => y(d)).attr("y2", d => y(d))
    .attr("stroke", "#c4c4c4").attr("stroke-width", 1).attr("stroke-dasharray", "2,2");
  g.append("g").selectAll("line").data(p.ticks.filter(d => y(d) > p.top + 1)).enter().append("line")
    .attr("x1", left).attr("x2", right)
    .attr("y1", d => y(d)).attr("y2", d => y(d))
    .attr("stroke", "#8a8a8a").attr("stroke-width", 1).attr("stroke-dasharray", "4,3");

  // data lines
  defs.append("clipPath").attr("id", "clip-" + p.key)
    .append("rect").attr("x", left).attr("y", p.top - 12)
    .attr("width", right - left).attr("height", p.bottom - p.top + 12);

  const line = d3.line()
    .x((d, j) => x(p.time[j]))
    .y(d => y(d));

  g.append("g").attr("clip-path", `url(#clip-${p.key})`)
    .selectAll("path").data(p.series).enter().append("path")
    .attr("d", d => line(d))
    .attr("fill", "none")
    .attr("stroke", (d, j) => seriesColors[j])
    .attr("stroke-width", 1.3)
    .attr("stroke-linejoin", "round");

  // left axis
  const yl = g.append("g").attr("transform", `translate(${left},0)`)
    .call(d3.axisLeft(y).tickValues(p.ticks).tickFormat((d, j) => p.labels[j])
      .tickSize(8).tickSizeOuter(0).tickPadding(3));
  yl.selectAll("text").attr("font-size", 20).attr("font-family", font).attr("fill", "#000");
  g.append("g").attr("transform", `translate(${left},0)`)
    .call(d3.axisLeft(y).tickValues(minors).tickFormat("").tickSize(4).tickSizeOuter(0))
    .select(".domain").remove();

  // right axis, ticks pointing inward
  g.append("g").attr("transform", `translate(${right},0)`)
    .call(d3.axisRight(y).tickValues(p.ticks).tickFormat("").tickSize(-8).tickSizeOuter(0));
  g.append("g").attr("transform", `translate(${right},0)`)
    .call(d3.axisRight(y).tickValues(minors).tickFormat("").tickSize(-4).tickSizeOuter(0))
    .select(".domain").remove();

  // bottom axis, ticks pointing up
  g.append("g").attr("transform", `translate(0,${p.bottom})`)
    .call(d3.axisBottom(x).tickValues(timeTicks).tickFormat("").tickSize(-8).tickSizeOuter(0));
  g.append("g").attr("transform", `translate(0,${p.bottom})`)
    .call(d3.axisBottom(x).tickValues(timeTicks.slice(0, -1).map(d => d + 50)).tickFormat("")
      .tickSize(-4).tickSizeOuter(0))
    .select(".domain").remove();

  if (p.box) {
    g.append("line").attr("x1", left).attr("x2", right)
      .attr("y1", p.top).attr("y2", p.top).attr("stroke", "#000").attr("stroke-width", 1.5);
  }

  g.selectAll(".domain").attr("stroke", "#000").attr("stroke-width", 1.5);
  g.selectAll(".tick line").attr("stroke", "#000").attr("stroke-width", 1.2);

  // y title
  const t = svg.append("text")
    .attr("transform", `translate(42,${p.titleY}) rotate(-90)`)
    .attr("text-anchor", "middle").attr("font-size", 23).attr("font-family", font);
  if (p.title === "thc") {
    t.append("tspan").text("THC / (g s");
  } else if (p.title === "nox") {
    t.append("tspan").text("NO");
    t.append("tspan").attr("font-size", 15).attr("dy", 6).text("x");
    t.append("tspan").attr("dy", -6).text(" / (g s");
  } else {
    t.append("tspan").text("CO /\u00a0 (g s");
  }
  t.append("tspan").attr("font-size", 15).attr("dy", -10).text("\u22121");
  t.append("tspan").attr("dy", 10).text(")");
});

// x tick labels (bottom panel only)
svg.append("g").selectAll("text").data(timeTicks).enter().append("text")
  .attr("transform", d => `translate(${x(d)},692) rotate(-90)`)
  .attr("text-anchor", "end").attr("dy", "0.35em")
  .attr("font-size", 19).attr("font-family", font)
  .text(d => d);

svg.append("text").attr("x", 550).attr("y", 752).attr("text-anchor", "middle")
  .attr("font-size", 23).attr("font-family", font).text("time / s");

// legend
const legend = svg.append("g");
legend.append("rect").attr("x", 250).attr("y", 21).attr("width", 683).attr("height", 41)
  .attr("fill", "#fff");
const legendX = [292, 510, 716];
seriesNames.forEach((name, i) => {
  legend.append("line").attr("x1", legendX[i]).attr("x2", legendX[i] + 53)
    .attr("y1", 40).attr("y2", 40)
    .attr("stroke", seriesColors[i]).attr("stroke-width", 1.5);
  legend.append("text").attr("x", legendX[i] + 60).attr("y", 48)
    .attr("font-size", 23).attr("font-family", font).text(name);
});
</script>
</body>
</html>
